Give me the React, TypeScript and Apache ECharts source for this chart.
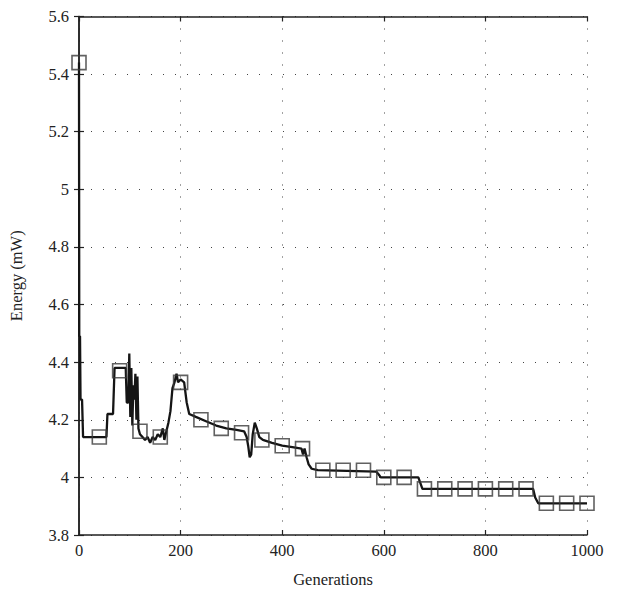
import React, { useEffect, useRef } from "react";
import * as echarts from "echarts";

const lineGenerations = [
  0, 0.5, 2, 3, 6, 8, 54, 56, 67, 70, 92, 94, 97, 99, 101, 103, 105, 107, 109, 111, 113, 115, 117, 120,
  125, 130, 135, 140, 145, 150, 155, 160, 165, 168, 172, 176, 180, 184, 188, 192, 195, 200, 207, 212,
  217, 230, 250, 270, 290, 310, 325, 330, 333, 336, 339, 342, 346, 350, 355, 362, 380, 400, 420, 438,
  441, 444, 448, 452, 458, 470, 585, 590, 594, 668, 672, 676, 894, 898, 904, 1000,
];
const lineEnergy = [
  5.44, 4.49, 4.49, 4.27, 4.27, 4.14, 4.14, 4.22, 4.22, 4.38, 4.38, 4.26, 4.26, 4.43, 4.21, 4.38, 4.18,
  4.32, 4.27, 4.36, 4.2, 4.35, 4.17, 4.15, 4.14, 4.13, 4.14, 4.12, 4.14, 4.13, 4.15, 4.14, 4.17, 4.13,
  4.16, 4.19, 4.23, 4.31, 4.33, 4.36, 4.33, 4.34, 4.33, 4.26, 4.22, 4.21, 4.195, 4.18, 4.17, 4.165,
  4.16, 4.14, 4.11, 4.07, 4.08, 4.15, 4.19, 4.17, 4.14, 4.13, 4.12, 4.11, 4.105, 4.1, 4.08, 4.1, 4.07,
  4.045, 4.03, 4.025, 4.02, 4.01, 4.0, 4.0, 3.98, 3.96, 3.96, 3.93, 3.91, 3.91,
];

const markerGenerations = [
  0, 40, 80, 120, 160, 200, 240, 280, 320, 360, 400, 440, 480, 520, 560, 600, 640, 680, 720, 760, 800,
  840, 880, 920, 960, 1000,
];
const markerEnergy = [
  5.44, 4.14, 4.37, 4.16, 4.14, 4.33, 4.2, 4.17, 4.155, 4.13, 4.11, 4.1, 4.025, 4.025, 4.025, 4.0, 4.0,
  3.96, 3.96, 3.96, 3.96, 3.96, 3.96, 3.91, 3.91, 3.91,
];

const xTicks = { min: 0, max: 1000, interval: 200 };
const yTicks = { min: 3.8, max: 5.6, interval: 0.2 };

const FONT = "'Liberation Serif', 'DejaVu Serif', serif";

export default function App() {
  const ref = useRef<HTMLDivElement>(null);
  useEffect(() => {
    if (!ref.current) return;
    const chart = echarts.init(ref.current, null, { renderer: "svg" });
    const axisLine = { show: true, lineStyle: { color: "#222", width: 1.5 } };
    const tick = { show: true, inside: true, length: 5, lineStyle: { color: "#222", width: 1.2 } };
    const split = { show: true, lineStyle: { color: "#444", width: 1, type: [1, 11] as any } };
    const label = { color: "#222", fontSize: 16.5, fontFamily: FONT };
    chart.setOption({
      animation: false,
      backgroundColor: "#fff",
      grid: { left: 78.5, right: 33, top: 16.5, bottom: 62, containLabel: false },
      xAxis: [
        {
          type: "value",
          position: "bottom",
          ...xTicks,
          name: "Generations",
          nameLocation: "middle",
          nameGap: 36,
          nameTextStyle: { color: "#222", fontSize: 16.5, fontFamily: FONT },
          axisLine,
          axisTick: tick,
          splitLine: split,
          axisLabel: { ...label, margin: 7, formatter: (v: number) => String(Math.round(v)) },
        },
        {
          type: "value",
          position: "top",
          ...xTicks,
          axisLine,
          axisTick: tick,
          splitLine: { show: false },
          axisLabel: { show: false },
        },
      ],
      yAxis: [
        {
          type: "value",
          position: "left",
          ...yTicks,
          name: "Energy (mW)",
          nameLocation: "middle",
          nameGap: 54,
          nameRotate: 90,
          nameTextStyle: { color: "#222", fontSize: 16.5, fontFamily: FONT },
          axisLine,
          axisTick: tick,
          splitLine: split,
          axisLabel: {
            ...label,
            margin: 10,
            formatter: (v: number) => String(Number(v.toFixed(1))),
          },
        },
        {
          type: "value",
          position: "right",
          ...yTicks,
          axisLine,
          axisTick: tick,
          splitLine: { show: false },
          axisLabel: { show: false },
        },
      ],
      series: [
        {
          type: "line",
          data: lineGenerations.map((g, i) => [g, lineEnergy[i]]),
          showSymbol: false,
          symbol: "none",
          lineStyle: { color: "#151515", width: 2.3 },
          z: 3,
        },
        {
          type: "scatter",
          data: markerGenerations.map((g, i) => [g, markerEnergy[i]]),
          symbol: "rect",
          symbolSize: 14,
          itemStyle: { color: "rgba(0,0,0,0)", borderColor: "#3a3a3a", borderWidth: 1.6 },
          z: 4,
        },
      ],
    });
    return () => chart.dispose();
  }, []);
  return (
    <div
      ref={ref}
      style={{ position: "fixed", left: 0, top: 0, width: 620, height: 597, background: "#fff" }}
    />
  );
}
